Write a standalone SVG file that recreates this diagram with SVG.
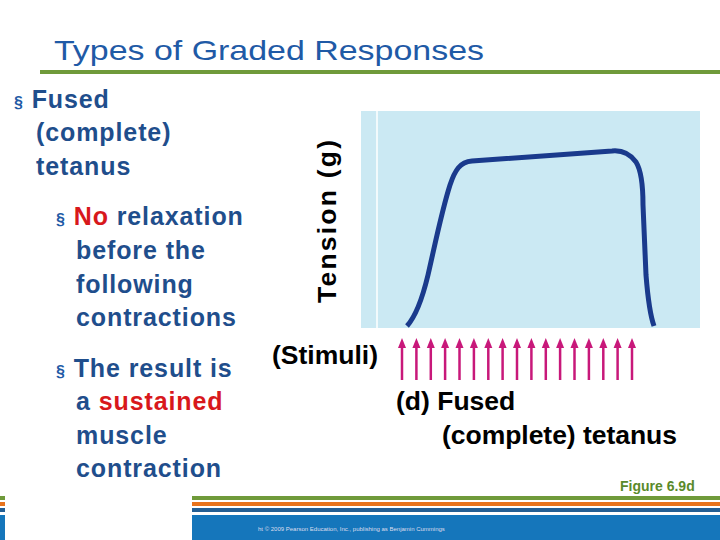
<svg xmlns="http://www.w3.org/2000/svg" width="720" height="540" viewBox="0 0 720 540">
<style>
.t{font-family:"Liberation Sans",Arial,sans-serif;font-size:26.5px;font-weight:bold;fill:#000}
.r{fill:#d8181c}
.ar{stroke:#c8187a;stroke-width:2.5}
.ah{fill:#c8187a}
</style>
<rect width="720" height="540" fill="#fff"/>
<g id="title"><text x="54" y="60" font-family="Liberation Sans,Arial,sans-serif" font-size="28" fill="#1f5aa6" textLength="430" lengthAdjust="spacingAndGlyphs">Types of Graded Responses</text>
<rect x="40" y="70" width="680" height="4" fill="#6f9a3a"/></g>
<g id="bullets" font-family="Liberation Sans,Arial,sans-serif" font-size="25" font-weight="bold" fill="#1f4e8c" letter-spacing="0.9">
<text x="14" y="108"><tspan font-size="16" fill="#1f5aa6">§</tspan> Fused</text>
<text x="36" y="141">(complete)</text>
<text x="36" y="175">tetanus</text>
<text x="56" y="225"><tspan font-size="16" fill="#1f5aa6">§</tspan> <tspan class="r">No</tspan> relaxation</text>
<text x="76" y="259">before the</text>
<text x="76" y="293">following</text>
<text x="76" y="326">contractions</text>
<text x="56" y="377"><tspan font-size="16" fill="#1f5aa6">§</tspan> The result is</text>
<text x="76" y="410">a <tspan class="r">sustained</tspan></text>
<text x="76" y="444">muscle</text>
<text x="76" y="477">contraction</text>
</g>
<g id="chart">
<rect x="361" y="111" width="339" height="217" fill="#cbe9f3"/>
<line x1="377" y1="111" x2="377" y2="328" stroke="#fff" stroke-width="1.5"/>
<path d="M407,326 C416,316 422,300 428,275 C436,240 442,210 450,185 C455,170 460,162 472,161 L612,151 C622,150 630,154 636,162 C641,170 643,185 643,205 L646,275 C648,300 650,315 654,326" fill="none" stroke="#1a3a8c" stroke-width="5" stroke-linejoin="round"/>
<text class="t" font-size="28" transform="translate(336,303) rotate(-90)" textLength="163">Tension (g)</text>
</g>
<g id="connectors">
<g class="ar">
<line x1="402" y1="346" x2="402" y2="380"/><line x1="416.4" y1="346" x2="416.4" y2="380"/><line x1="430.8" y1="346" x2="430.8" y2="380"/><line x1="445.1" y1="346" x2="445.1" y2="380"/><line x1="459.5" y1="346" x2="459.5" y2="380"/><line x1="473.9" y1="346" x2="473.9" y2="380"/><line x1="488.3" y1="346" x2="488.3" y2="380"/><line x1="502.6" y1="346" x2="502.6" y2="380"/><line x1="517" y1="346" x2="517" y2="380"/><line x1="531.4" y1="346" x2="531.4" y2="380"/><line x1="545.8" y1="346" x2="545.8" y2="380"/><line x1="560.1" y1="346" x2="560.1" y2="380"/><line x1="574.5" y1="346" x2="574.5" y2="380"/><line x1="588.9" y1="346" x2="588.9" y2="380"/><line x1="603.3" y1="346" x2="603.3" y2="380"/><line x1="617.6" y1="346" x2="617.6" y2="380"/><line x1="632" y1="346" x2="632" y2="380"/>
</g>
<g class="ah">
<path d="M398,348 L402,338 L406,348Z"/><path d="M412.4,348 L416.4,338 L420.4,348Z"/><path d="M426.8,348 L430.8,338 L434.8,348Z"/><path d="M441.1,348 L445.1,338 L449.1,348Z"/><path d="M455.5,348 L459.5,338 L463.5,348Z"/><path d="M469.9,348 L473.9,338 L477.9,348Z"/><path d="M484.3,348 L488.3,338 L492.3,348Z"/><path d="M498.6,348 L502.6,338 L506.6,348Z"/><path d="M513,348 L517,338 L521,348Z"/><path d="M527.4,348 L531.4,338 L535.4,348Z"/><path d="M541.8,348 L545.8,338 L549.8,348Z"/><path d="M556.1,348 L560.1,338 L564.1,348Z"/><path d="M570.5,348 L574.5,338 L578.5,348Z"/><path d="M584.9,348 L588.9,338 L592.9,348Z"/><path d="M599.3,348 L603.3,338 L607.3,348Z"/><path d="M613.6,348 L617.6,338 L621.6,348Z"/><path d="M628,348 L632,338 L636,348Z"/>
</g></g>
<g id="labels">
<text class="t" x="272" y="364" textLength="106">(Stimuli)</text>
<text class="t" x="396" y="410">(d) Fused</text>
<text class="t" x="442" y="444" textLength="235">(complete) tetanus</text>
<text x="620" y="491" font-family="Liberation Sans,Arial,sans-serif" font-size="14" font-weight="bold" fill="#5a8a2a">Figure 6.9d</text>
</g>
<g id="footer">
<rect x="0" y="496" width="5" height="4" fill="#6f9a3a"/><rect x="192" y="496" width="528" height="4" fill="#6f9a3a"/>
<rect x="0" y="502" width="5" height="4" fill="#e8731c"/><rect x="192" y="502" width="528" height="4" fill="#e8731c"/>
<rect x="0" y="508" width="5" height="4" fill="#245f94"/><rect x="192" y="508" width="528" height="4" fill="#245f94"/>
<rect x="0" y="515" width="5" height="25" fill="#1576bb"/><rect x="192" y="515" width="528" height="25" fill="#1576bb"/>
<text x="258" y="531" font-family="Liberation Sans,Arial,sans-serif" font-size="6" fill="#dde">ht © 2009 Pearson Education, Inc., publishing as Benjamin Cummings</text>
</g>
</svg>
